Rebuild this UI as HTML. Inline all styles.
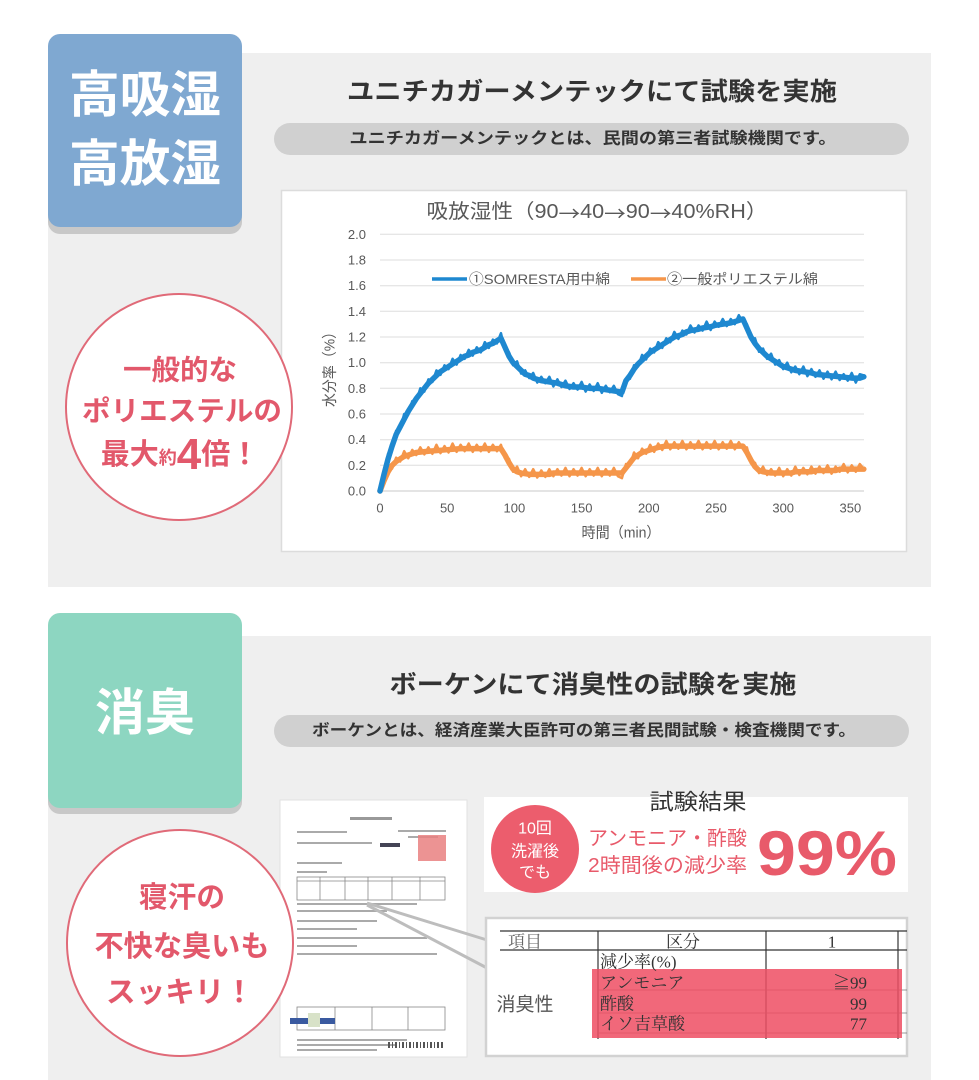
<!DOCTYPE html>
<html><head><meta charset="utf-8"><style>
html,body{margin:0;padding:0;background:#fff;}
svg{display:block;}
</style></head><body>
<svg width="979" height="1080" viewBox="0 0 979 1080" xmlns="http://www.w3.org/2000/svg" font-family="'Liberation Sans','Noto Sans CJK JP',sans-serif">
<rect width="979" height="1080" fill="#fff"/>

<!-- ===== Section 1 ===== -->
<rect x="48" y="53" width="883" height="534" fill="#efefef"/>
<rect x="48" y="40" width="194" height="194" rx="12" fill="#c8c8c8"/>
<rect x="48" y="34" width="194" height="193" rx="12" fill="#7fa8d1"/>
<text x="145" y="95" font-size="50" font-weight="bold" fill="#fff" text-anchor="middle" dominant-baseline="central" textLength="152" lengthAdjust="spacingAndGlyphs">高吸湿</text>
<text x="145" y="164" font-size="50" font-weight="bold" fill="#fff" text-anchor="middle" dominant-baseline="central" textLength="152" lengthAdjust="spacingAndGlyphs">高放湿</text>

<text x="592" y="92" font-size="25" font-weight="bold" fill="#333" text-anchor="middle" dominant-baseline="central" textLength="490" lengthAdjust="spacingAndGlyphs">ユニチカガーメンテックにて試験を実施</text>
<rect x="274" y="123" width="635" height="32" rx="16" fill="#d0d0d0"/>
<text x="593" y="139" font-size="16" font-weight="bold" fill="#333" text-anchor="middle" dominant-baseline="central" textLength="487" lengthAdjust="spacingAndGlyphs">ユニチカガーメンテックとは、民間の第三者試験機関です。</text>

<!-- chart box -->
<rect x="281.5" y="190.5" width="625" height="361" fill="#fff" stroke="#dcdcdc" stroke-width="1.5"/>
<text x="597" y="212" font-size="20" fill="#595959" text-anchor="middle" dominant-baseline="central" textLength="341" lengthAdjust="spacingAndGlyphs">吸放湿性（90<tspan font-family="'Noto Sans CJK JP',sans-serif">→</tspan>40<tspan font-family="'Noto Sans CJK JP',sans-serif">→</tspan>90<tspan font-family="'Noto Sans CJK JP',sans-serif">→</tspan>40%RH）</text>

<g stroke="#dedede" stroke-width="1">
<line x1="380" y1="234.3" x2="864" y2="234.3"/>
<line x1="380" y1="260.0" x2="864" y2="260.0"/>
<line x1="380" y1="285.7" x2="864" y2="285.7"/>
<line x1="380" y1="311.3" x2="864" y2="311.3"/>
<line x1="380" y1="337.0" x2="864" y2="337.0"/>
<line x1="380" y1="362.7" x2="864" y2="362.7"/>
<line x1="380" y1="388.3" x2="864" y2="388.3"/>
<line x1="380" y1="414.0" x2="864" y2="414.0"/>
<line x1="380" y1="439.7" x2="864" y2="439.7"/>
<line x1="380" y1="465.3" x2="864" y2="465.3"/>
</g>
<line x1="380" y1="491" x2="864" y2="491" stroke="#c8c8c8" stroke-width="1"/>

<g font-size="13" fill="#595959" text-anchor="end" dominant-baseline="central">
<text x="366" y="234.3">2.0</text>
<text x="366" y="260.0">1.8</text>
<text x="366" y="285.7">1.6</text>
<text x="366" y="311.3">1.4</text>
<text x="366" y="337.0">1.2</text>
<text x="366" y="362.7">1.0</text>
<text x="366" y="388.3">0.8</text>
<text x="366" y="414.0">0.6</text>
<text x="366" y="439.7">0.4</text>
<text x="366" y="465.3">0.2</text>
<text x="366" y="491">0.0</text>
</g>
<g font-size="13" fill="#595959" text-anchor="middle" dominant-baseline="central">
<text x="380" y="508">0</text>
<text x="447.2" y="508">50</text>
<text x="514.4" y="508">100</text>
<text x="581.6" y="508">150</text>
<text x="648.8" y="508">200</text>
<text x="716" y="508">250</text>
<text x="783.2" y="508">300</text>
<text x="850.4" y="508">350</text>
</g>
<text x="621" y="533" font-size="15" fill="#595959" text-anchor="middle" dominant-baseline="central" textLength="79" lengthAdjust="spacingAndGlyphs">時間（min）</text>
<text transform="translate(330,366) rotate(-90)" font-size="15" fill="#595959" text-anchor="middle" dominant-baseline="central" textLength="82" lengthAdjust="spacingAndGlyphs">水分率（%）</text>

<!-- legend -->
<line x1="432" y1="279" x2="467" y2="279" stroke="#1e88d0" stroke-width="3.5"/>
<text x="469" y="279" font-size="14" fill="#595959" dominant-baseline="central" textLength="141" lengthAdjust="spacingAndGlyphs">①SOMRESTA用中綿</text>
<line x1="631" y1="279" x2="666" y2="279" stroke="#f5964a" stroke-width="3.5"/>
<text x="667" y="279" font-size="14" fill="#595959" dominant-baseline="central" textLength="151" lengthAdjust="spacingAndGlyphs">②一般ポリエステル綿</text>

<!-- series -->
<g transform="translate(380,491) scale(1.344,-128.33)" fill="none" stroke-linejoin="round" stroke-linecap="round">
<polyline stroke="#f5964a" stroke-width="5.5" vector-effect="non-scaling-stroke" points="0,0 3,0.08 6,0.15 9,0.20 12,0.23 15,0.25 18,0.27 21,0.28 24,0.29 27,0.30 36,0.31 48,0.32 60,0.33 90,0.33 93,0.28 96,0.22 99,0.17 102,0.15 105,0.14 111,0.13 126,0.13 129,0.14 180,0.14 183,0.18 186,0.22 189,0.26 192,0.28 195,0.30 198,0.31 201,0.32 204,0.33 207,0.34 213,0.35 270,0.35 273,0.30 276,0.24 279,0.19 282,0.16 285,0.15 291,0.14 306,0.14 309,0.15 321,0.15 324,0.16 339,0.16 342,0.17 360,0.17"/>
<polyline stroke="#f5964a" stroke-width="2.5" vector-effect="non-scaling-stroke" points="0,0 3,0.06 6,0.19 9,0.175 12,0.26 15,0.23 18,0.31 21,0.255 24,0.32 27,0.28 30,0.34 33,0.285 36,0.34 39,0.29 42,0.36 45,0.295 48,0.35 51,0.30 54,0.37 57,0.305 60,0.36 63,0.31 66,0.37 69,0.305 72,0.36 75,0.31 78,0.37 81,0.305 84,0.36 87,0.31 90,0.36 93,0.255 96,0.25 99,0.15 102,0.19 105,0.115 108,0.17 111,0.11 114,0.17 117,0.105 120,0.16 123,0.11 126,0.17 129,0.115 132,0.17 135,0.12 138,0.18 141,0.115 144,0.17 147,0.12 150,0.18 153,0.115 156,0.17 159,0.12 162,0.18 165,0.115 168,0.17 171,0.12 174,0.18 177,0.115 180,0.10 183,0.21 186,0.20 189,0.30 192,0.255 195,0.33 198,0.29 201,0.36 204,0.305 207,0.37 210,0.32 213,0.39 216,0.325 219,0.38 222,0.33 225,0.39 228,0.325 231,0.38 234,0.33 237,0.39 240,0.325 243,0.38 246,0.33 249,0.39 252,0.325 255,0.38 258,0.33 261,0.39 264,0.325 267,0.38 270,0.33 273,0.34 276,0.215 279,0.22 282,0.14 285,0.19 288,0.125 291,0.17 294,0.12 297,0.18 300,0.115 303,0.17 306,0.12 309,0.19 312,0.125 315,0.18 318,0.13 321,0.19 324,0.135 327,0.19 330,0.14 333,0.20 336,0.135 339,0.19 342,0.15 345,0.21 348,0.145 351,0.20 354,0.15 357,0.21 360,0.17"/>
<polyline stroke="#1e88d0" stroke-width="5.5" vector-effect="non-scaling-stroke" points="0,0 3,0.13 6,0.25 9,0.35 12,0.44 15,0.50 18,0.56 21,0.62 24,0.67 27,0.72 30,0.76 33,0.80 36,0.84 39,0.87 42,0.90 45,0.93 48,0.95 51,0.97 54,0.99 57,1.01 60,1.03 63,1.05 66,1.06 69,1.08 72,1.09 75,1.10 78,1.12 81,1.14 84,1.15 87,1.17 90,1.19 93,1.12 96,1.05 99,1.00 102,0.97 105,0.94 108,0.91 111,0.90 114,0.88 117,0.87 120,0.86 126,0.85 132,0.84 138,0.82 144,0.81 150,0.81 156,0.80 162,0.80 168,0.79 174,0.78 180,0.77 181,0.80 183,0.86 186,0.90 189,0.95 192,0.99 195,1.02 198,1.05 201,1.08 204,1.10 207,1.12 210,1.14 213,1.16 216,1.18 219,1.20 222,1.21 225,1.22 228,1.24 231,1.25 237,1.26 240,1.27 246,1.28 249,1.29 255,1.30 261,1.31 264,1.32 267,1.33 270,1.34 273,1.27 276,1.20 279,1.15 282,1.11 285,1.08 288,1.05 291,1.03 294,1.01 297,0.99 300,0.97 303,0.96 306,0.95 309,0.94 315,0.93 321,0.92 324,0.91 333,0.90 342,0.89 351,0.88 357,0.88 360,0.89"/>
<polyline stroke="#1e88d0" stroke-width="2.5" vector-effect="non-scaling-stroke" points="0,0 3,0.11 6,0.29 9,0.325 12,0.47 15,0.48 18,0.60 21,0.595 24,0.70 27,0.70 30,0.80 33,0.775 36,0.87 39,0.85 42,0.94 45,0.905 48,0.98 51,0.95 54,1.03 57,0.985 60,1.06 63,1.03 66,1.10 69,1.055 72,1.12 75,1.08 78,1.16 81,1.115 84,1.18 87,1.15 90,1.23 93,1.095 96,1.08 99,0.98 102,1.01 105,0.915 108,0.94 111,0.88 114,0.92 117,0.845 120,0.89 123,0.84 126,0.89 129,0.815 132,0.87 135,0.81 138,0.86 141,0.795 144,0.84 147,0.79 150,0.85 153,0.775 156,0.83 159,0.78 162,0.84 165,0.765 168,0.82 171,0.77 174,0.82 177,0.755 180,0.74 181,0.80 183,0.87 186,0.875 189,0.98 192,0.97 195,1.06 198,1.025 201,1.11 204,1.08 207,1.16 210,1.115 213,1.19 216,1.16 219,1.24 222,1.185 225,1.25 228,1.22 231,1.29 234,1.235 237,1.29 240,1.25 243,1.32 246,1.255 249,1.32 252,1.28 255,1.34 258,1.285 261,1.34 264,1.30 267,1.37 270,1.315 273,1.30 276,1.18 279,1.19 282,1.085 285,1.11 288,1.03 291,1.07 294,0.985 297,1.02 300,0.95 303,1.00 306,0.925 309,0.97 312,0.91 315,0.97 318,0.895 321,0.95 324,0.89 327,0.94 330,0.875 333,0.93 336,0.87 339,0.93 342,0.865 345,0.91 348,0.86 351,0.92 354,0.845 357,0.91 360,0.90"/>
</g>

<!-- circle 1 -->
<circle cx="179" cy="407" r="113" fill="#fff" stroke="#e06a78" stroke-width="2"/>
<g fill="#e2586b" font-weight="bold" text-anchor="middle" dominant-baseline="central">
<text x="180" y="370" font-size="28" textLength="114" lengthAdjust="spacingAndGlyphs">一般的な</text>
<text x="182" y="411" font-size="28" textLength="200" lengthAdjust="spacingAndGlyphs">ポリエステルの</text>
<text x="180" y="455"><tspan font-size="29">最大</tspan><tspan font-size="18" dy="3">約</tspan><tspan font-size="44" dy="-4" font-family="'Liberation Sans',sans-serif">4</tspan><tspan font-size="29" dy="1">倍！</tspan></text>
</g>

<!-- ===== Section 2 ===== -->
<rect x="48" y="636" width="883" height="444" fill="#efefef"/>
<rect x="48" y="620" width="194" height="194" rx="12" fill="#c8c8c8"/>
<rect x="48" y="613" width="194" height="195" rx="12" fill="#8dd6c1"/>
<text x="145" y="713" font-size="50" font-weight="bold" fill="#fff" text-anchor="middle" dominant-baseline="central" textLength="100" lengthAdjust="spacingAndGlyphs">消臭</text>

<text x="593" y="685" font-size="25" font-weight="bold" fill="#333" text-anchor="middle" dominant-baseline="central" textLength="407" lengthAdjust="spacingAndGlyphs">ボーケンにて消臭性の試験を実施</text>
<rect x="274" y="715" width="635" height="32" rx="16" fill="#d0d0d0"/>
<text x="584" y="731" font-size="16" font-weight="bold" fill="#333" text-anchor="middle" dominant-baseline="central" textLength="544" lengthAdjust="spacingAndGlyphs">ボーケンとは、経済産業大臣許可の第三者民間試験・検査機関です。</text>

<!-- document thumbnail -->
<rect x="280" y="800" width="187" height="257" fill="#fff" stroke="#e2e2e2"/>
<g fill="#aaa">
<rect x="350" y="817" width="42" height="3" fill="#999"/>
<rect x="297" y="831" width="50" height="2"/>
<rect x="297" y="842" width="75" height="2"/>
<rect x="398" y="830" width="48" height="2"/>
<rect x="408" y="836" width="30" height="2"/>
<rect x="380" y="843" width="20" height="4" fill="#445"/>
<rect x="297" y="862" width="45" height="2"/>
<rect x="297" y="871" width="30" height="2"/>
<rect x="297" y="903" width="120" height="2"/>
<rect x="297" y="910" width="90" height="2"/>
<rect x="297" y="920" width="80" height="2"/>
<rect x="297" y="928" width="60" height="2"/>
<rect x="297" y="937" width="130" height="2"/>
<rect x="297" y="945" width="60" height="2"/>
<rect x="297" y="953" width="140" height="2"/>
<rect x="297" y="1039" width="110" height="2"/>
<rect x="297" y="1044" width="100" height="2"/>
<rect x="297" y="1049" width="80" height="2"/>
</g>
<rect x="418" y="835" width="28" height="26" fill="#e98080" opacity="0.85"/>
<g fill="none" stroke="#888" stroke-width="0.8">
<rect x="297" y="877" width="148" height="23"/>
<line x1="297" y1="881" x2="445" y2="881"/>
<line x1="320" y1="877" x2="320" y2="900"/>
<line x1="345" y1="877" x2="345" y2="900"/>
<line x1="368" y1="877" x2="368" y2="900"/>
<line x1="392" y1="877" x2="392" y2="900"/>
<line x1="420" y1="877" x2="420" y2="900"/>
<rect x="297" y="1007" width="148" height="23"/>
<line x1="335" y1="1007" x2="335" y2="1030"/>
<line x1="372" y1="1007" x2="372" y2="1030"/>
<line x1="408" y1="1007" x2="408" y2="1030"/>
</g>
<rect x="290" y="1018" width="45" height="6" fill="#3a5aa0"/>
<rect x="308" y="1013" width="12" height="14" fill="#d8e2c8"/>
<g fill="#555">
<rect x="388" y="1042" width="2" height="6"/><rect x="392" y="1042" width="1" height="6"/><rect x="395" y="1042" width="2" height="6"/><rect x="399" y="1042" width="1" height="6"/><rect x="402" y="1042" width="2" height="6"/><rect x="406" y="1042" width="1" height="6"/><rect x="409" y="1042" width="2" height="6"/><rect x="413" y="1042" width="1" height="6"/><rect x="416" y="1042" width="2" height="6"/><rect x="420" y="1042" width="1" height="6"/><rect x="423" y="1042" width="2" height="6"/><rect x="427" y="1042" width="1" height="6"/><rect x="430" y="1042" width="2" height="6"/><rect x="434" y="1042" width="1" height="6"/><rect x="437" y="1042" width="2" height="6"/><rect x="441" y="1042" width="2" height="6"/>
</g>

<!-- callout lines -->
<line x1="367" y1="903" x2="487" y2="940" stroke="#bdbdbd" stroke-width="3"/>
<line x1="367" y1="905" x2="487" y2="968" stroke="#bdbdbd" stroke-width="3"/>

<!-- circle 2 -->
<circle cx="180" cy="943" r="113" fill="#fff" stroke="#e06a78" stroke-width="2"/>
<g fill="#e2586b" font-weight="bold" text-anchor="middle" dominant-baseline="central">
<text x="182" y="898" font-size="29" textLength="86" lengthAdjust="spacingAndGlyphs">寝汗の</text>
<text x="182" y="947" font-size="29" textLength="175" lengthAdjust="spacingAndGlyphs">不快な臭いも</text>
<text x="180" y="993" font-size="29" textLength="148" lengthAdjust="spacingAndGlyphs">スッキリ！</text>
</g>

<!-- result box -->
<rect x="484" y="797" width="424" height="95" fill="#fff"/>
<text x="698" y="802" font-size="22" fill="#333" text-anchor="middle" dominant-baseline="central" textLength="97" lengthAdjust="spacingAndGlyphs">試験結果</text>
<circle cx="535" cy="849" r="44" fill="#ec5d6d"/>
<g fill="#fff" font-size="16" text-anchor="middle" dominant-baseline="central">
<text x="535" y="829">10回</text>
<text x="535" y="852">洗濯後</text>
<text x="535" y="873">でも</text>
</g>
<g fill="#e85a6a" font-size="20" dominant-baseline="central">
<text x="588" y="839" textLength="159" lengthAdjust="spacingAndGlyphs">アンモニア・酢酸</text>
<text x="588" y="866" textLength="159" lengthAdjust="spacingAndGlyphs">2時間後の減少率</text>
</g>
<text x="757" y="875" font-size="63" font-weight="bold" fill="#e85a6a" font-family="'Liberation Sans',sans-serif" textLength="140" lengthAdjust="spacingAndGlyphs">99%</text>

<!-- table box -->
<rect x="486" y="918" width="421" height="138" fill="#fff" stroke="#d2d2d2" stroke-width="2.5"/>
<g stroke="#333" stroke-width="1.2">
<line x1="500" y1="931" x2="907" y2="931"/>
<line x1="500" y1="950" x2="907" y2="950"/>
<line x1="598" y1="931" x2="598" y2="1039"/>
<line x1="766" y1="931" x2="766" y2="1039"/>
<line x1="898" y1="931" x2="898" y2="1039"/>
</g>
<g stroke="#777" stroke-width="0.8">
<line x1="598" y1="990" x2="907" y2="990"/>
<line x1="598" y1="1013" x2="907" y2="1013"/>
<line x1="598" y1="1033" x2="907" y2="1033"/>
</g>
<rect x="592" y="969" width="310" height="69" fill="#ee4d63" opacity="0.85"/>
<g font-family="'Liberation Serif','Noto Serif CJK SC',serif" font-size="17" fill="#333" dominant-baseline="central">
<text x="525" y="942" text-anchor="middle" fill="#666">項目</text>
<text x="683" y="942" text-anchor="middle">区分</text>
<text x="832" y="942" text-anchor="middle">1</text>
<text x="600" y="962">減少率(%)</text>
<text x="600" y="983">アンモニア</text>
<text x="600" y="1004">酢酸</text>
<text x="600" y="1024">イソ吉草酸</text>
<text x="867" y="983" text-anchor="end">≧99</text>
<text x="867" y="1004" text-anchor="end">99</text>
<text x="867" y="1024" text-anchor="end">77</text>
</g>
<text x="525" y="1005" font-size="19" fill="#555" text-anchor="middle" dominant-baseline="central">消臭性</text>

</svg>
</body></html>
